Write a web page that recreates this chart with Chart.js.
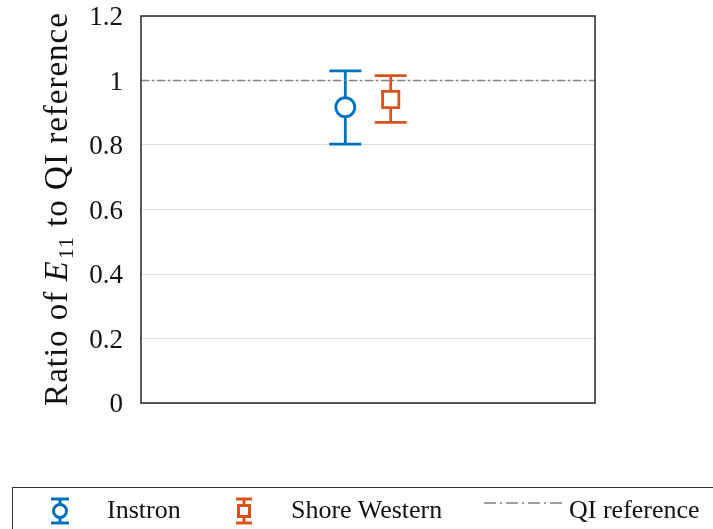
<!DOCTYPE html>
<html>
<head>
<meta charset="utf-8">
<script src="https://cdn.jsdelivr.net/npm/chart.js@4.4.1/dist/chart.umd.min.js"></script>
<style>
  html, body { margin: 0; padding: 0; background: #fff; }
  #wrap { position: relative; width: 713px; height: 529px; overflow: hidden; }
  #chart { position: absolute; left: 0; top: 0; }
  #legend {
    position: absolute; left: 12px; top: 487px; width: 720px; height: 60px;
    border: 1px solid #333; box-sizing: border-box;
    font-family: "Liberation Serif", serif; font-size: 26px; color: #111;
  }
  #legend span { position: absolute; top: 7px; white-space: nowrap; }
  #legend svg { position: absolute; }
</style>
</head>
<body>
<div id="wrap">
  <canvas id="chart" width="713" height="529"></canvas>
  <div id="legend">
    <svg style="left:36px;top:9px" width="22" height="28">
      <g stroke="#0072BD" stroke-width="3" fill="#fff">
        <line x1="11" y1="1" x2="11" y2="27"/>
        <line x1="2" y1="2" x2="20" y2="2"/>
        <line x1="2" y1="26" x2="20" y2="26"/>
        <circle cx="11" cy="14" r="6.5"/>
      </g>
    </svg>
    <span style="left:94px">Instron</span>
    <svg style="left:220px;top:9px" width="22" height="28">
      <g stroke="#D95319" stroke-width="3" fill="#fff">
        <line x1="11" y1="1" x2="11" y2="27"/>
        <line x1="3" y1="2" x2="19" y2="2"/>
        <line x1="3" y1="26" x2="19" y2="26"/>
        <rect x="5.5" y="8.5" width="11" height="11"/>
      </g>
    </svg>
    <span style="left:278px">Shore Western</span>
    <svg style="left:470px;top:10px" width="82" height="10">
      <line x1="1" y1="5" x2="81" y2="5" stroke="#808080" stroke-width="1.3" stroke-dasharray="12,4,2,4"/>
    </svg>
    <span style="left:556px">QI reference</span>
  </div>
</div>
<script>
const seriesNames = ["Instron", "Shore Western"];
const xPos = [0.9, 1.1];
const meanRatio = [0.917, 0.941];
const lowerRatio = [0.803, 0.870];
const upperRatio = [1.030, 1.015];
const refX = [0, 2];
const refY = [1, 1];
const yTicks = [0, 0.2, 0.4, 0.6, 0.8, 1, 1.2];

const colors = ["#0072BD", "#D95319"];
const styles = ["circle", "rect"];
const radii = [9.5, 11.5];

const errorBars = {
    id: "errorBars",
    beforeDatasetsDraw(chart) {
        const ctx = chart.ctx;
        const xs = chart.scales.x, ys = chart.scales.y;
        ctx.save();
        ctx.lineWidth = 2.8;
        for (let i = 0; i < seriesNames.length; i++) {
            const x = xs.getPixelForValue(xPos[i]);
            const yl = ys.getPixelForValue(lowerRatio[i]);
            const yu = ys.getPixelForValue(upperRatio[i]);
            ctx.strokeStyle = colors[i];
            ctx.beginPath();
            ctx.moveTo(x, yl); ctx.lineTo(x, yu);
            ctx.moveTo(x - 16, yl); ctx.lineTo(x + 16, yl);
            ctx.moveTo(x - 16, yu); ctx.lineTo(x + 16, yu);
            ctx.stroke();
        }
        ctx.restore();
    }
};

const frame = {
    id: "frame",
    afterDraw(chart) {
        const { ctx, chartArea: a } = chart;
        ctx.save();
        ctx.strokeStyle = "#262626";
        ctx.lineWidth = 1.5;
        ctx.strokeRect(a.left, a.top, a.right - a.left, a.bottom - a.top);

        // y-axis title with italic E and subscript 11
        const parts = [
            { t: "Ratio of ", f: "33px 'Liberation Serif'", dy: 0 },
            { t: "E", f: "italic 33px 'Liberation Serif'", dy: 0 },
            { t: "11", f: "22px 'Liberation Serif'", dy: 6 },
            { t: " to QI reference", f: "33px 'Liberation Serif'", dy: 0 }
        ];
        ctx.letterSpacing = "1px";
        let total = 0;
        parts.forEach(p => { ctx.font = p.f; p.w = ctx.measureText(p.t).width; total += p.w; });
        ctx.translate(67, (a.top + a.bottom) / 2);
        ctx.rotate(-Math.PI / 2);
        ctx.fillStyle = "#111";
        ctx.textBaseline = "alphabetic";
        let cx = -total / 2;
        parts.forEach(p => {
            ctx.font = p.f;
            ctx.fillText(p.t, cx, p.dy);
            cx += p.w + (p.t === "E" ? 1 : 0);
        });
        ctx.restore();
    }
};

new Chart(document.getElementById("chart"), {
    type: "scatter",
    data: {
        datasets: [
            {
                label: seriesNames[0],
                data: [{ x: xPos[0], y: meanRatio[0] }],
                pointStyle: styles[0],
                pointRadius: radii[0],
                borderColor: colors[0],
                backgroundColor: "#fff",
                borderWidth: 2.8
            },
            {
                label: seriesNames[1],
                data: [{ x: xPos[1], y: meanRatio[1] }],
                pointStyle: styles[1],
                pointRadius: radii[1],
                borderColor: colors[1],
                backgroundColor: "#fff",
                borderWidth: 2.8
            },
            {
                label: "QI reference",
                type: "line",
                data: refX.map((x, i) => ({ x, y: refY[i] })),
                borderColor: "#808080",
                borderWidth: 1.3,
                borderDash: [8, 3, 2, 3],
                pointRadius: 0,
                order: 5
            }
        ]
    },
    options: {
        responsive: false,
        animation: false,
        events: [],
        layout: { padding: { left: 0, top: 16, right: 118, bottom: 126 } },
        plugins: { legend: { display: false }, tooltip: { enabled: false } },
        scales: {
            x: {
                type: "linear", min: 0, max: 2,
                ticks: { display: false },
                grid: { display: false, drawTicks: false },
                border: { display: false },
                afterFit(s) { s.height = 0; }
            },
            y: {
                min: 0, max: 1.2,
                afterBuildTicks(s) { s.ticks = yTicks.map(v => ({ value: v })); },
                ticks: {
                    padding: 18,
                    labelOffset: 2,
                    color: "#111",
                    font: { family: "Liberation Serif", size: 27 },
                    callback: v => String(v)
                },
                grid: { color: "#dcdcdc", lineWidth: 1, drawTicks: false },
                border: { display: false },
                afterFit(s) { s.width = 141; s.paddingTop = 0; s.paddingBottom = 0; }
            }
        }
    },
    plugins: [errorBars, frame]
});
</script>
</body>
</html>
